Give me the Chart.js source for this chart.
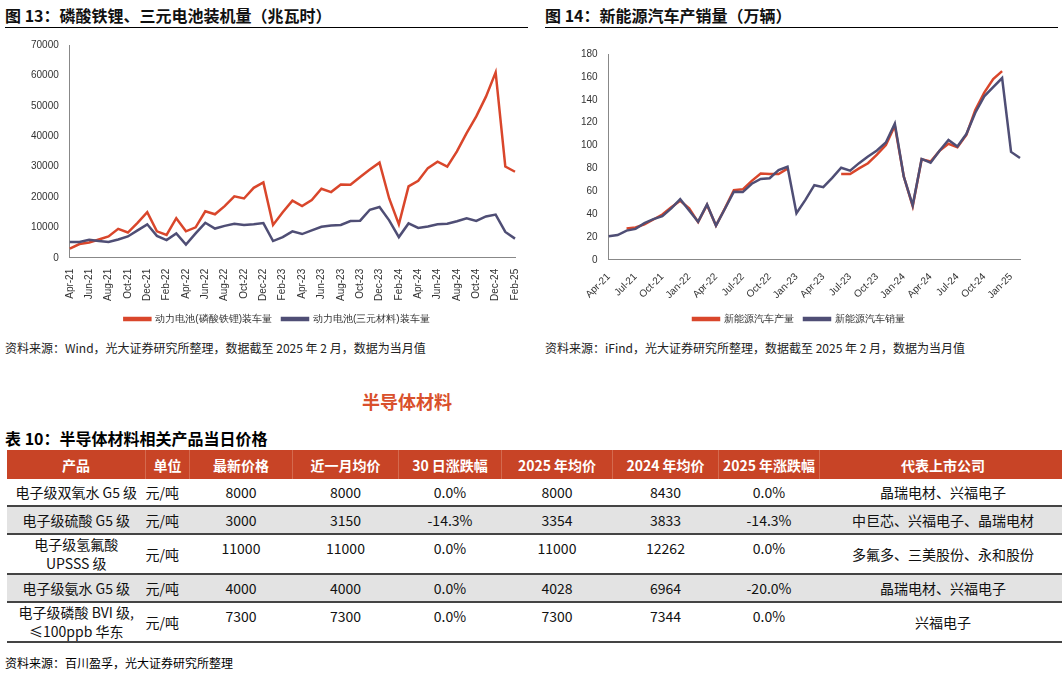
<!DOCTYPE html>
<html><head><meta charset="utf-8">
<script src="https://cdn.jsdelivr.net/npm/chart.js@4"></script>
<style>
body{margin:0;width:1062px;height:674px;background:#fff;font-family:"Noto Sans CJK SC","Noto Sans",sans-serif;position:relative;overflow:hidden}
.t{position:absolute;font-weight:bold;font-size:16px;color:#111;top:3px}
.ln{position:absolute;top:27px;height:1px;background:#000}
.src{position:absolute;font-size:12px;color:#222;top:339px}
.box{position:absolute;top:34px;height:300px}
#sec{position:absolute;left:362px;top:388px;font-size:18px;font-weight:bold;color:#d9502c}
#tt{position:absolute;left:5px;top:426px;font-size:16px;font-weight:bold}
table{position:absolute;left:7px;top:450px;width:1051px;table-layout:fixed;border-collapse:collapse;font-size:14px;color:#111}
th{background:#c84426;color:#fff;height:29px;font-weight:bold;border-right:1px solid #d46a4f;padding:0;white-space:nowrap}
td{text-align:center;padding:0;border-bottom:2px solid #444;vertical-align:middle;line-height:19px;white-space:nowrap}
tr.g td{background:#e3e3e3}
</style></head><body>
<div class="t" style="left:5px">图 13：磷酸铁锂、三元电池装机量（兆瓦时）</div>
<div class="ln" style="left:5px;width:523px"></div>
<div class="t" style="left:545px">图 14：新能源汽车产销量（万辆）</div>
<div class="ln" style="left:545px;width:513px"></div>
<div class="box" style="left:0;width:530px"><canvas id="c1"></canvas></div>
<div class="box" style="left:540px;width:522px"><canvas id="c2"></canvas></div>
<div class="src" style="left:5px">资料来源：Wind，光大证券研究所整理，数据截至 2025 年 2 月，数据为当月值</div>
<div class="src" style="left:545px">资料来源：iFind，光大证券研究所整理，数据截至 2025 年 2 月，数据为当月值</div>
<div id="sec">半导体材料</div>
<div id="tt">表 10：半导体材料相关产品当日价格</div>
<table id="tb"></table>
<div style="position:absolute;left:5px;top:654px;font-size:12px">资料来源：百川盈孚，光大证券研究所整理</div>
<script>
const months=[];
(function(){const m=['Jan','Feb','Mar','Apr','May','Jun','Jul','Aug','Sep','Oct','Nov','Dec'];let y=21,i=3;for(let k=0;k<47;k++){months.push(m[i]+'-'+y);i++;if(i==12){i=0;y++;}}})();
const lfp=[3000,4500,5000,6000,7000,9500,8300,11500,15000,8700,7500,13000,8700,10000,15300,14300,17000,20200,19500,23000,24800,10800,15000,18800,17000,19000,22700,21600,24100,24000,26600,29000,31300,19500,11000,23500,25300,29500,31600,30000,35000,41000,46500,53000,61000,30000,28300];
const ncm=[5200,5200,5900,5500,5200,6000,7000,9000,11000,7200,5800,8000,4300,8000,11500,9600,10500,11200,10800,11000,11400,5500,6800,8700,7800,9000,10200,10600,10800,12100,12200,15800,16700,12300,6800,11300,9800,10300,11000,11200,12000,13000,12100,13600,14200,8500,6300];
const prod=[null,null,27.5,28.4,31,35.3,39.7,46,51.7,45,33,48,30,45,61,61.7,69.1,75.5,75.2,75,79.8,null,null,null,null,null,75,75,80,84.5,92,100.4,117.2,73,47,88,86,95.3,101.5,98.4,109.2,131,146.3,158,165,null,null];
const sales=[20.6,21.7,25.6,27.1,32.1,35.7,38.3,45,53.1,43.1,33.4,48.4,29.9,44.7,59.6,59.3,66.6,70.8,71.4,78.6,81.4,40.8,52.5,65.3,63.6,71.7,80.6,78,84.6,90.4,95.6,102.6,119.1,72.9,47.7,88.3,85,95.5,104.9,99.1,110,128.7,143,151,159,94.4,89];
const red='#d9462b',pur='#4f4e75';
function mk(id,ds,max,step,every,rot,pad){
 new Chart(document.getElementById(id),{type:'line',data:{labels:months,datasets:ds.map(d=>({label:d[0],data:d[1],borderColor:d[2],backgroundColor:d[2],borderWidth:2.5,pointRadius:0,tension:0,spanGaps:false,order:d[3]}))},
 options:{responsive:true,maintainAspectRatio:false,animation:false,layout:{padding:pad},
 plugins:{legend:{position:'bottom',labels:{boxWidth:26,boxHeight:2,font:{size:10},color:'#333',sort:(a,b)=>a.datasetIndex-b.datasetIndex}},tooltip:{enabled:false}},
 scales:{x:{grid:{display:false,drawTicks:true},border:{color:'#888'},ticks:{autoSkip:false,color:'#333',font:{size:10,family:'Liberation Sans'},maxRotation:rot,minRotation:rot,callback:(v,i)=>i%every==0?months[i]:''}},
 y:{min:0,max:max,grid:{display:false},border:{color:'#888'},ticks:{stepSize:step,color:'#333',font:{size:10,family:'Liberation Sans'},callback:v=>String(v)}}}}});
}
mk('c1',[['动力电池(磷酸铁锂)装车量',lfp,red,1],['动力电池(三元材料)装车量',ncm,pur,0]],70000,10000,2,90,{left:28,right:4,top:11});
mk('c2',[['新能源汽车产量',prod,red,1],['新能源汽车销量',sales,pur,0]],180,20,3,45,{left:38,right:42,top:20});
const head=['产品','单位','最新价格','近一月均价','30 日涨跌幅','2025 年均价','2024 年均价','2025 年涨跌幅','代表上市公司'];
const widths=[138,43,102,105,102,110,105,100,246];
const names=['电子级双氧水 G5 级','电子级硫酸 G5 级','电子级氢氟酸<br>UPSSS 级','电子级氨水 G5 级','电子级磷酸 BVI 级,<br>≤100ppb 华东'];
const units=['元/吨','元/吨','元/吨','元/吨','元/吨'];
const latest=['8000','3000','11000','4000','7300'];
const monthAvg=['8000','3150','11000','4000','7300'];
const chg30=['0.0%','-14.3%','0.0%','0.0%','0.0%'];
const avg25=['8000','3354','11000','4028','7300'];
const avg24=['8430','3833','12262','6964','7344'];
const chg25=['0.0%','-14.3%','0.0%','-20.0%','0.0%'];
const cos=['晶瑞电材、兴福电子','中巨芯、兴福电子、晶瑞电材','多氟多、三美股份、永和股份','晶瑞电材、兴福电子','兴福电子'];
const heights=[27,28,40,28,40];
let h='<tr>'+head.map((x,i)=>`<th style="width:${widths[i]}px">${x}</th>`).join('')+'</tr>';
for(let r=0;r<5;r++){const top='vertical-align:top;padding-top:4px';
 h+=`<tr class="${r%2?'g':''}" style="height:${heights[r]}px"><td>${names[r]}</td><td style="text-align:left">${units[r]}</td>`+
 [latest,monthAvg,chg30,avg25,avg24,chg25].map(a=>`<td style="${top}">${a[r]}</td>`).join('')+`<td>${cos[r]}</td></tr>`;}
document.getElementById('tb').innerHTML=h;
</script></body></html>
